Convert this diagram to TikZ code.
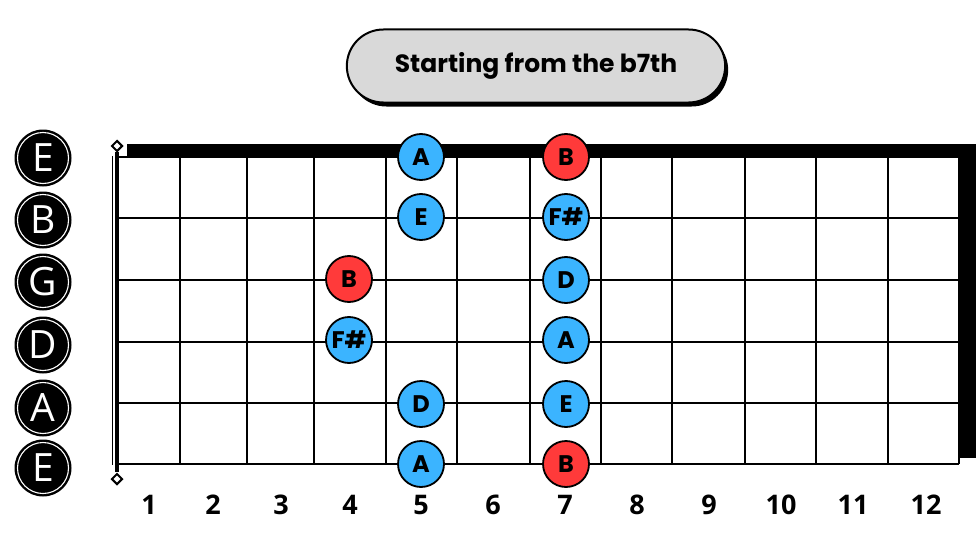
\documentclass[tikz,border=0pt]{standalone}
\usepackage{fontspec}
\setmainfont{Poppins}
\newfontfamily\stringfont{Open Sans}
\usepackage{xcolor}
\usetikzlibrary{shapes,shadows,positioning,calc}
\definecolor{noteblue}{HTML}{3BB4FF}
\definecolor{notered}{HTML}{FF3A3A}
\definecolor{titlegray}{HTML}{D9D9D9}

\begin{document}
\begin{tikzpicture}[
        x=1pt, y=-1pt,
        note/.style={circle, draw, line width=1.8pt, minimum size=46pt, inner sep=0pt, font=\fontsize{24}{24}\selectfont\bfseries},
        bluenote/.style={note, fill=noteblue},
        rednote/.style={note, fill=notered},
        strname/.style={circle, fill=black, minimum size=57pt, inner sep=0pt, text=white, font=\stringfont\fontsize{39}{39}\selectfont,
            path picture={\draw[white, line width=1.1pt] (path picture bounding box.center) circle (25.5pt);}},
        fretno/.style={font=\stringfont\fontsize{27}{27}\selectfont\bfseries},
        title/.style={rounded rectangle, draw, line width=2pt, fill=titlegray, minimum width=385pt, minimum height=73pt,
            font=\fontsize{25}{25}\selectfont\bfseries, drop shadow={shadow xshift=3pt, shadow yshift=-4pt, fill=black, opacity=1}},
        fret/.style={line width=1.8pt},
        marker/.style={diamond, draw, line width=2pt, fill=white, minimum size=11pt, inner sep=0pt}
    ]
        \useasboundingbox (0,0) rectangle (980,551);

        % Title
        \node[title] (title) at (536,66) {Starting from the b7th};

        % Board
        \fill (127,144) rectangle (976,157);
        \fill (959,144) rectangle (976,458);
        \foreach \y in {157,218,280,342,403,464}
            \draw[fret] (117,\y) -- (959,\y);
        \foreach \x in {180,247,314,386,457,530,601,672,745,816,888,959}
            \draw[fret] (\x,157) -- (\x,464);
        \draw[line width=0.8pt] (112.5,156) -- (112.5,465);
        \draw[line width=4.5pt] (117,152) -- (117,472);
        \node[marker] (nuttop) at (117,146) {};
        \node[marker] (nutbot) at (117,479) {};

        % String names
        \node[strname] (sE) at (43,158) {E};
        \node[strname] (sB) at (43,220) {B};
        \node[strname] (sG) at (43,282) {G};
        \node[strname] (sD) at (43,345) {D};
        \node[strname] (sA) at (43,408) {A};
        \node[strname] (slowE) at (43,468) {E};

        % Fret numbers
        \foreach \n/\x in {1/149,2/213,3/281,4/350,5/421,6/493,7/565,8/637,9/709,10/781,11/853,12/926}
            \node[fretno] (f\n) at (\x,505) {\n};

        % Notes
        \node[bluenote] (e1a) at (421,157) {A};
        \node[rednote] (e1b) at (566,157) {B};
        \node[bluenote] (b2e) at (421,217) {E};
        \node[bluenote] (b2fs) at (566,217) {F\#};
        \node[rednote] (g3b) at (349,279) {B};
        \node[bluenote] (g3d) at (566,280) {D};
        \node[bluenote] (d4fs) at (349,340) {F\#};
        \node[bluenote] (d4a) at (566,340) {A};
        \node[bluenote] (a5d) at (421,404) {D};
        \node[bluenote] (a5e) at (566,404) {E};
        \node[bluenote] (e6a) at (421,464) {A};
        \node[rednote] (e6b) at (566,464) {B};
    \end{tikzpicture}
\end{document}
